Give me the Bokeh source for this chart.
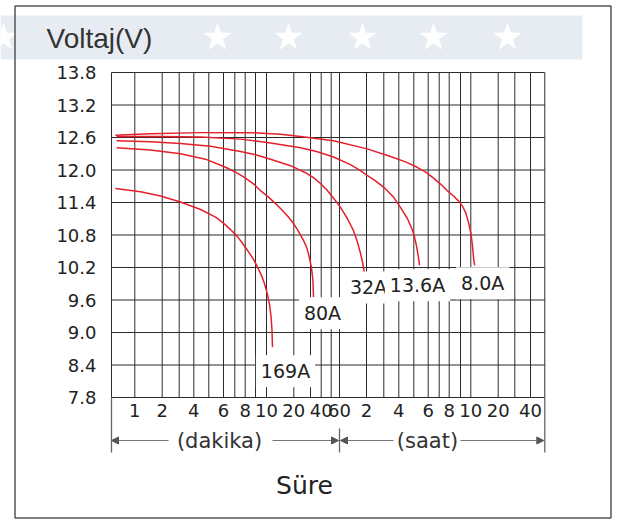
import numpy as np
from bokeh.plotting import figure
from bokeh.models import Range1d, LinearAxis, FixedTicker, Label, Arrow, NormalHead
from bokeh.core.properties import value
from bokeh.embed import file_html
from bokeh.resources import INLINE

# ---- printed (non-uniform) time axis of the chart: minutes -> axis units ----
AXIS_T = [0.4, 1, 2, 3, 4, 5, 6, 7, 8, 9, 10, 20, 30, 40, 50, 60,
          120, 180, 240, 300, 360, 420, 480, 540, 600, 1200, 1800, 2400, 3000]
AXIS_U = [0, 23.3, 50.7, 67.7, 82.3, 97.3, 112, 123.3, 133.7, 144, 155, 182.3, 199, 209.7, 219.7, 228,
          255, 272.3, 287.3, 302.3, 316.7, 327.7, 337.7, 349, 359.3, 386.7, 403.3, 419, 433.3]

TICK_T = [1, 2, 4, 6, 8, 10, 20, 40, 60, 120, 240, 360, 480, 600, 1200, 2400]
TICK_LABELS = ["1", "2", "4", "6", "8", "10", "20", "40", "60", "2", "4", "6", "8", "10", "20", "40"]

V_TICKS = [7.8, 8.4, 9.0, 9.6, 10.2, 10.8, 11.4, 12.0, 12.6, 13.2, 13.8]
V_LABELS = ["7.8", "8.4", "9.0", "9.6", "10.2", "10.8", "11.4", "12.0", "12.6", "13.2", "13.8"]

# ---- discharge curves: time (minutes) and voltage (V) ----
T_169 = [0.5, 1.21, 1.94, 3.09, 4.45, 5.46, 6.0, 6.62, 7.26, 7.84, 8.32, 8.81, 9.18, 9.55, 9.82,
         10.37, 11.1, 11.65, 12.0, 12.2]
V_169 = [11.66, 11.60, 11.52, 11.41, 11.27, 11.13, 11.02, 10.90, 10.77, 10.62, 10.49, 10.35, 10.21,
         10.05, 9.90, 9.70, 9.52, 9.30, 9.05, 8.73]

T_80 = [0.53, 1.57, 3.09, 4.78, 6.18, 7.07, 8.03, 8.83, 9.45, 10.73, 13.3, 15.5, 17.7, 19.5, 22.2,
        25.8, 27.6, 28.8, 30.9, 32.3, 32.8]
V_80 = [12.41, 12.37, 12.30, 12.20, 12.05, 11.96, 11.85, 11.74, 11.62, 11.50, 11.38, 11.27, 11.15,
        11.04, 10.90, 10.70, 10.58, 10.45, 10.20, 9.95, 9.65]

T_32 = [0.53, 1.57, 3.09, 5.12, 7.55, 9.0, 11.46, 18.8, 27.0, 32.8, 39.3, 45.3, 51.6, 56.4, 62.2,
        77.8, 91.1, 97.8, 102.2, 106.7, 110.4, 115.6]
V_32 = [12.54, 12.52, 12.49, 12.44, 12.34, 12.28, 12.20, 12.08, 11.95, 11.86, 11.75, 11.64, 11.50,
        11.41, 11.31, 11.10, 10.88, 10.72, 10.60, 10.46, 10.33, 10.09]

T_136 = [0.53, 1.94, 4.45, 7.55, 11.46, 24.0, 35.6, 52.8, 84.4, 102.2, 122.4, 151.2, 180, 218.8,
         246.8, 274.8, 290.8, 300, 311.3, 319.6, 323.8]
V_136 = [12.62, 12.62, 12.61, 12.57, 12.50, 12.41, 12.34, 12.24, 12.10, 12.01, 11.90, 11.80, 11.68,
         11.50, 11.31, 11.10, 10.93, 10.82, 10.60, 10.38, 10.24]

T_8 = [0.5, 1.57, 4.45, 8.51, 15.1, 24.0, 52.8, 122.4, 206.8, 266.8, 314.2, 352.9, 388.9, 427.8,
       468, 502.8, 529.4, 551.7, 572.0, 588.3, 604.4, 637.2, 665.7, 685.4]
V_8 = [12.64, 12.67, 12.69, 12.69, 12.66, 12.62, 12.54, 12.39, 12.25, 12.15, 12.05, 11.95, 11.85,
       11.74, 11.62, 11.52, 11.43, 11.33, 11.20, 11.01, 10.82, 10.60, 10.33, 10.24]

SERIES = [("169A", T_169, V_169), ("80A", T_80, V_80), ("32A", T_32, V_32),
          ("13.6A", T_136, V_136), ("8.0A", T_8, V_8)]

# ---- layout helpers (page pixels -> data units) ----
W, H = 617, 520
OX, OY = 0, 0                            # canvas origin on the page
GX0, GY0, GY1 = 111.0, 72.0, 397.0      # grid left, top, bottom in page px
K = (V_TICKS[-1] - V_TICKS[0]) / (GY1 - GY0)


def tu(t):
    return np.interp(np.asarray(t, dtype=float), AXIS_T, AXIS_U)


def px(x):
    return x - GX0


def py(y):
    return V_TICKS[-1] - (y - GY0) * K


p = figure(width=W, height=H, x_range=Range1d(px(OX), px(OX + W)),
           y_range=Range1d(py(OY + H), py(OY)), x_axis_type=None, y_axis_type=None,
           toolbar_location=None, output_backend="svg", min_border=0, title=None)
p.outline_line_color = None
p.background_fill_color = "white"
p.border_fill_color = "white"

FONT = value("DejaVu Sans")

# title band
p.quad(left=px(0), right=px(582), top=py(15), bottom=py(59), fill_color="#e7ecf3", line_color=None)
p.scatter(x=[px(v) for v in (3, 217, 288, 362, 433, 507)], y=[py(37)] * 6, marker="star",
          size=30, fill_color="white", line_color=None)
p.text(x=[px(46)], y=[py(38)], text=["Voltaj(V)"], text_font=value("Liberation Sans"),
       text_font_size="28px", text_color="#333333", text_align="left", text_baseline="middle")

# outer border
p.quad(left=px(14.5), right=px(610.5), top=py(5.5), bottom=py(517.5), fill_color=None,
       line_color="#555555", line_width=1.5)

# grid
u_min, u_max = AXIS_U[0], AXIS_U[-1]
grid_u = tu(AXIS_T)
p.segment(x0=grid_u, y0=[V_TICKS[0]] * len(grid_u), x1=grid_u, y1=[V_TICKS[-1]] * len(grid_u),
          line_color="#2b2b2b", line_width=1)
p.segment(x0=[u_min] * len(V_TICKS), y0=V_TICKS, x1=[u_max] * len(V_TICKS), y1=V_TICKS,
          line_color="#2b2b2b", line_width=1)

# curves
for name, t, v in SERIES:
    p.line(tu(t), v, line_color="#e5202b", line_width=1.5, line_join="round")

# curve labels (offset in px right / down from curve end)
LABEL_OFF = {"169A": (13, 24), "80A": (9, 16), "32A": (4, 14), "13.6A": (-2, 20), "8.0A": (8, 18)}
for name, t, v in SERIES:
    dx, dy = LABEL_OFF[name]
    p.add_layout(Label(x=float(tu(t[-1])) + dx, y=v[-1] - dy * K, text=name,
                       text_font="DejaVu Sans", text_font_size="19px", text_color="#222222",
                       text_align="center", text_baseline="middle",
                       background_fill_color="white", padding=5))

# axes
xa = LinearAxis(fixed_location=V_TICKS[0])
xt = [round(float(u), 3) for u in tu(TICK_T)]
xa.ticker = FixedTicker(ticks=xt)
xa.major_label_overrides = {u: lab for u, lab in zip(xt, TICK_LABELS)}
xa.axis_line_color = None
xa.major_tick_line_color = None
xa.minor_tick_line_color = None
xa.major_tick_out = 0
xa.major_tick_in = 0
xa.major_label_standoff = 6
xa.major_label_text_font = "DejaVu Sans"
xa.major_label_text_font_size = "18px"
xa.major_label_text_color = "#222222"
p.add_layout(xa, "below")

ya = LinearAxis(fixed_location=u_min)
ya.ticker = FixedTicker(ticks=V_TICKS)
ya.major_label_overrides = {v: lab for v, lab in zip(V_TICKS, V_LABELS)}
ya.axis_line_color = None
ya.major_tick_line_color = None
ya.minor_tick_line_color = None
ya.major_tick_out = 0
ya.major_tick_in = 0
ya.major_label_standoff = 15
ya.major_label_text_font = "DejaVu Sans"
ya.major_label_text_font_size = "18px"
ya.major_label_text_color = "#222222"
p.add_layout(ya, "left")

# unit brackets below the axis
u60 = float(tu(60))
p.segment(x0=[u_min, u_max, u60], y0=[V_TICKS[0], V_TICKS[0], py(428)],
          x1=[u_min, u_max, u60], y1=[py(452)] * 3, line_color="#666666", line_width=1.3)
ya_arrow = py(440)
for xs, xe in [(px(168), u_min), (px(272), u60 - 1), (px(393), u60 + 1), (px(460), u_max - 1)]:
    p.add_layout(Arrow(x_start=xs, y_start=ya_arrow, x_end=xe, y_end=ya_arrow,
                       line_color="#777777", line_width=1.2,
                       end=NormalHead(size=7, fill_color="#555555", line_color="#555555")))
p.text(x=[px(219), px(427)], y=[ya_arrow, ya_arrow], text=["(dakika)", "(saat)"], text_font=FONT,
       text_font_size="21px", text_color="#333333", text_align="center", text_baseline="middle")
p.text(x=[px(304)], y=[py(485)], text=["Süre"], text_font=FONT, text_font_size="25px",
       text_color="#222222", text_align="center", text_baseline="middle")

open("out.html", "w").write(file_html(p, INLINE))
